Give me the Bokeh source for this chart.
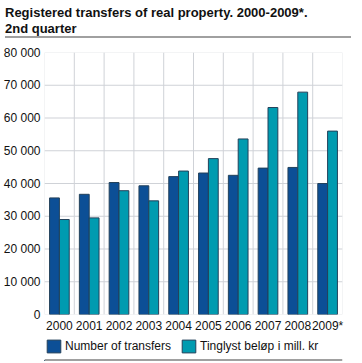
from bokeh.plotting import figure
from bokeh.models import (ColumnDataSource, FixedTicker, Legend, LegendItem, Div)
from bokeh.layouts import column
from bokeh.transform import dodge
from bokeh.embed import file_html
from bokeh.resources import INLINE

years = ["2000", "2001", "2002", "2003", "2004", "2005", "2006", "2007", "2008", "2009*"]
transfers = [35600, 36700, 40300, 39300, 42100, 43200, 42500, 44700, 44900, 40000]
amounts = [29000, 29500, 37800, 34700, 43800, 47600, 53600, 63200, 67900, 56000]
y_ticks = [0, 10000, 20000, 30000, 40000, 50000, 60000, 70000, 80000]
series_names = ["Number of transfers", "Tinglyst beløp i mill. kr"]

FONT = "Liberation Sans"
BLUE = "#0c4f96"
TEAL = "#009bb0"
EDGE = "#23415a"
GRID = "#cfd2d7"
RULE = "#a0a0a0"
W = 346
FRAME_W = 300   # approx. plot-area width in px
FRAME_H = 263   # approx. plot-area height in px

n = len(years)
pos = [i + 0.5 for i in range(n)]
bounds = list(range(n + 1))
yspan = y_ticks[-1] - y_ticks[0]
src = ColumnDataSource(dict(x=pos, transfers=transfers, amounts=amounts, year=years))

p = figure(width=W, height=292, x_range=(0, n), y_range=(y_ticks[0], y_ticks[-1]),
           output_backend="svg", toolbar_location=None,
           min_border_top=9, min_border_right=4, min_border_left=0, min_border_bottom=0)
p.grid.visible = False
p.outline_line_color = None

# grid lines drawn as ~1px bars behind the data bars
p.hbar(y=y_ticks, left=0, right=n, height=yspan / FRAME_H,
       fill_color=GRID, line_color=None)
p.vbar(x=bounds, bottom=y_ticks[0], top=y_ticks[-1], width=n / FRAME_W,
       fill_color=GRID, line_color=None)

p.vbar(x=dodge("x", -0.165, range=p.x_range), top="transfers", width=0.33, source=src,
       fill_color=BLUE, line_color=EDGE, line_width=1)
p.vbar(x=dodge("x", 0.165, range=p.x_range), top="amounts", width=0.33, source=src,
       fill_color=TEAL, line_color=EDGE, line_width=1)

p.xaxis.ticker = FixedTicker(ticks=pos)
p.xaxis.major_label_overrides = {v: y for v, y in zip(pos, years)}
p.yaxis.ticker = FixedTicker(ticks=y_ticks)
p.yaxis.major_label_overrides = {v: f"{v:,}".replace(",", " ") for v in y_ticks}

for ax in (p.xaxis[0], p.yaxis[0]):
    ax.axis_line_color = None
    ax.major_tick_line_color = None
    ax.minor_tick_line_color = None
    ax.major_tick_out = 0
    ax.major_tick_in = 0
    ax.major_label_text_font = FONT
    ax.major_label_text_font_size = "12px"
    ax.major_label_text_color = "#111111"
p.xaxis.major_label_standoff = 4
p.yaxis.major_label_standoff = 4

# legend strip with the bottom rule
lg = figure(width=W, height=26, x_range=(0, 1), y_range=(0, 26),
            x_axis_type=None, y_axis_type=None, output_backend="svg",
            toolbar_location=None, min_border=0)
lg.xgrid.visible = False
lg.ygrid.visible = False
lg.outline_line_color = None
lg.hbar(y=[1.5], left=0, right=1, height=2, fill_color=RULE, line_color=None)
d1 = lg.vbar(x=[-10], top=[1], width=0.1, fill_color=BLUE, line_color=EDGE, line_width=1)
d2 = lg.vbar(x=[-10], top=[1], width=0.1, fill_color=TEAL, line_color=EDGE, line_width=1)
legend = Legend(items=[LegendItem(label=series_names[0], renderers=[d1]),
                       LegendItem(label=series_names[1], renderers=[d2])],
                orientation="horizontal", location=(1, 7),
                glyph_width=17, glyph_height=16, label_height=16, label_standoff=3,
                spacing=9, padding=0, margin=0, border_line_color=None,
                background_fill_alpha=0,
                label_text_font=FONT, label_text_font_size="12px",
                label_text_color="#111111")
lg.add_layout(legend)

title = Div(text="Registered transfers of real property. 2000-2009*.<br>2nd quarter",
            width=W, height=33,
            styles={"font-family": FONT, "font-size": "13px", "font-weight": "bold",
                    "line-height": "16px", "color": "#111111",
                    "border-bottom": f"2px solid {RULE}", "box-sizing": "border-box",
                    "width": f"{W}px", "height": "33px"})

layout = column(title, p, lg, spacing=0)

open("out.html", "w").write(file_html(layout, INLINE))
